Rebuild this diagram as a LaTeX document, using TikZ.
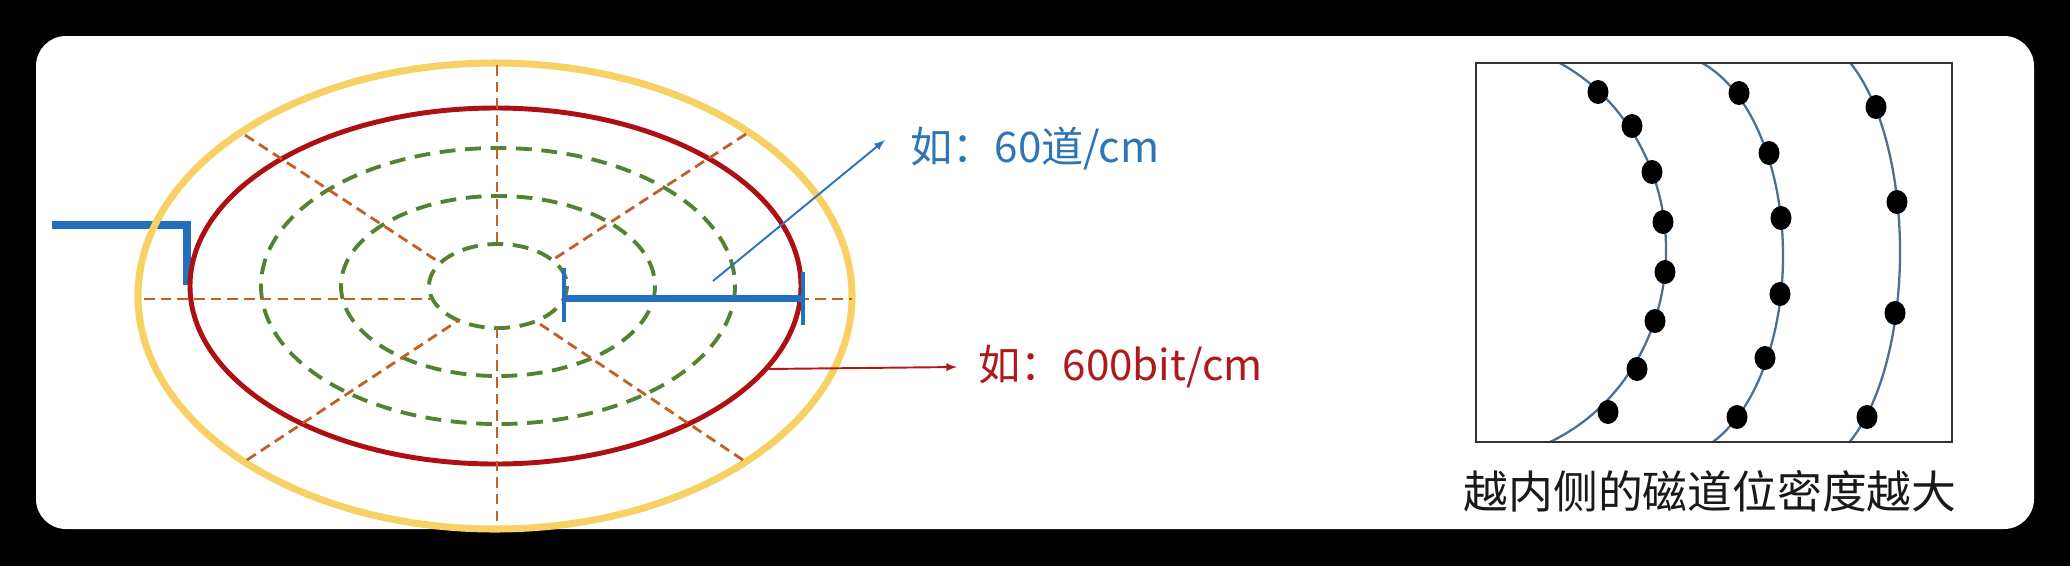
\documentclass[tikz,border=0pt]{standalone}
\usepackage{fontspec}
\setmainfont{Noto Sans CJK SC}
\usepackage{tikz}
\definecolor{diskyellow}{HTML}{F8D164}
\definecolor{diskred}{HTML}{AE0F12}
\definecolor{groovegreen}{HTML}{548235}
\definecolor{sectororange}{HTML}{C0612A}
\definecolor{headblue}{HTML}{2270BE}
\definecolor{noteblue}{HTML}{2E75B6}
\definecolor{notered}{HTML}{B0181A}
\definecolor{trackgray}{HTML}{4F6F8E}

\begin{document}
\begin{tikzpicture}[x=0.02cm,y=-0.02cm,
  sectorline/.style={line width=1.6pt, sectororange, dash pattern=on 6pt off 3.5pt},
  groove/.style={line width=2.2pt, groovegreen, dash pattern=on 9pt off 5.5pt},
  trackline/.style={line width=1.3pt, trackgray},
  hint/.style={inner sep=0pt, anchor=west, font=\fontsize{24}{28}\selectfont}]
\useasboundingbox (0,0) rectangle (2070,566);
\fill [black] (0,0) rectangle (2070,566);
\fill [white, rounded corners=0.6cm] (36,36) rectangle (2034,529);
% head arm
\draw [line width=5pt, headblue] (52,225) -- (187,225) -- (187,285);
% platter
\draw [line width=4pt, diskyellow] (495,296) ellipse [x radius=357, y radius=233];
\draw [line width=2.8pt, diskred] (495.5,286) ellipse [x radius=305.5, y radius=178];
\foreach \rx/\ry in {237/138, 157/90, 69/42}
  \draw [groove] (498,286) ellipse [x radius=\rx, y radius=\ry];
\draw [sectorline] (144,299) -- (430,299);
\draw [sectorline] (565,299) -- (852,299);
\draw [sectorline] (497,65) -- (497,244);
\draw [sectorline] (497,327) -- (497,527);
\draw [sectorline] (245,135) -- (439,262);
\draw [sectorline] (746,134) -- (554,259);
\draw [sectorline] (247,460) -- (459,320);
\draw [sectorline] (743,460) -- (537,322);
% radial span
\draw [line width=4pt, headblue] (564,298.5) -- (803,298.5);
\draw [line width=2.8pt, headblue] (564,268) -- (564,322);
\draw [line width=2.8pt, headblue] (803,272) -- (803,325);
\coordinate (spanmid) at (713,281);
\coordinate (rimpt) at (766,369);
\node [hint, text=noteblue] (tpi) at (910,148) {如：60道/cm};
\node [hint, text=notered] (bpi) at (978,367) {如：600bit/cm};
\draw [-latex, line width=1.1pt, noteblue] (spanmid) -- ([shift={(-25,-8)}]tpi.west);
\draw [-latex, line width=1.1pt, notered] (rimpt) -- ([xshift=-0.42cm]bpi.west);
% bit density box
\begin{scope}
\clip (1476,63) rectangle (1952,442);
\draw [trackline] (1471,250) ++(-72:195 and 210) arc [start angle=-72, end angle=72, x radius=195, y radius=210];
\draw [trackline] (1668,256) ++(-80:115 and 202) arc [start angle=-80, end angle=80, x radius=115, y radius=202];
\draw [trackline] (1805,252) ++(-75:95 and 215) arc [start angle=-75, end angle=75, x radius=95, y radius=215];
\end{scope}
\foreach \x/\y in {1598/92, 1632/126, 1652/172, 1663/222, 1665/272, 1655/321, 1637/369, 1608/412,
                   1739/93, 1769/153, 1781/218, 1780/294, 1765/358, 1737/417,
                   1876/107, 1897/202, 1895/313, 1867/417}
  \fill (\x,\y) ellipse [x radius=10.5, y radius=12];
\draw [line width=1.1pt, black!80] (1476,63) rectangle (1952,442);
\node [text=black!90, font=\fontsize{25.5}{30}\selectfont] (caption) at (1710,491) {越内侧的磁道位密度越大};
\end{tikzpicture}
\end{document}
